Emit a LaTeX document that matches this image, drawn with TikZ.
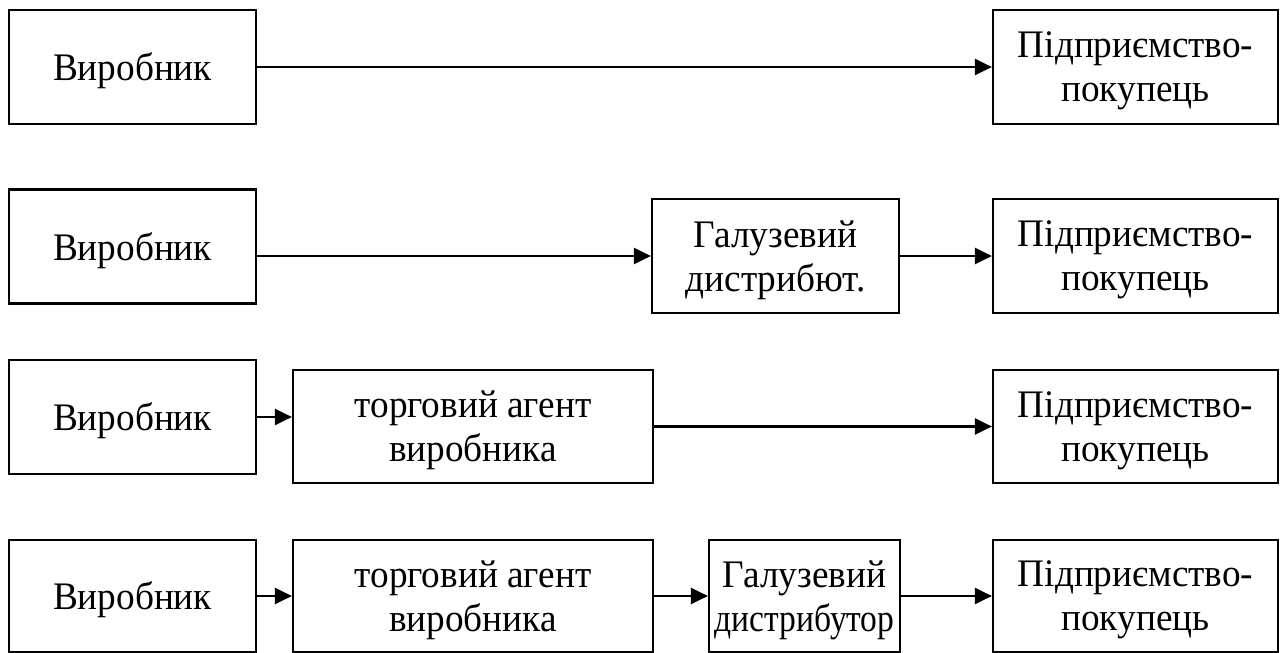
\documentclass[tikz,border=0pt]{standalone}
\usepackage{fontspec}
\setmainfont[FakeStretch=0.955]{Liberation Serif}
\newfontfamily\narrowserif[FakeStretch=0.86]{Liberation Serif}
\usetikzlibrary{arrows.meta, positioning}

\begin{document}
\begin{tikzpicture}[x=1pt, y=-1pt, every node/.style={font=\fontsize{39}{44}\selectfont}]
        \tikzset{
          chbox/.style={draw, line width=2.2pt, inner sep=0pt, align=center,
                 minimum width=247pt, minimum height=114pt, text depth=0pt},
          flow/.style={-{Triangle[length=17pt, width=16pt]}, line width=2.2pt}
        }
        \useasboundingbox (0,0) rectangle (1286,653);
        % direct
        \node[chbox] (v1) at (132.5,67) {Виробник};
        \node[chbox, minimum width=285pt] (p1) at (1135.5,67) {Підприємство-\\покупець};
        \draw[flow] (v1.east) -- (p1.west);
        % via distributor
        \node[chbox] (v2) at (132.5,246.5) {Виробник};
        \node[chbox] (g2) at (775.5,256) {Галузевий\\дистрибют.};
        \node[chbox, minimum width=285pt] (p2) at (1135.5,256) {Підприємство-\\покупець};
        \draw[flow] (v2.east |- g2.west) -- (g2.west);
        \draw[flow] (g2.east) -- (p2.west);
        % via agent
        \node[chbox] (v3) at (132.5,417) {Виробник};
        \node[chbox, minimum width=360pt, minimum height=113pt] (a3) at (473,426.5) {торговий агент\\виробника};
        \node[chbox, minimum width=285pt, minimum height=113pt] (p3) at (1135.5,426.5) {Підприємство-\\покупець};
        \draw[flow] (v3.east) -- (v3.east -| a3.west);
        \draw[flow] (a3.east) -- (p3.west);
        % via agent and distributor
        \node[chbox, minimum height=112pt] (v4) at (132.5,596) {Виробник};
        \node[chbox, minimum width=360pt, minimum height=112pt] (a4) at (473,596) {торговий агент\\виробника};
        \node[chbox, minimum width=191pt, minimum height=112pt] (g4) at (804.5,596) {Галузевий\\{\narrowserif дистрибутор}};
        \node[chbox, minimum width=285pt, minimum height=112pt] (p4) at (1135.5,596) {Підприємство-\\покупець};
        \draw[flow] (v4) -- (a4);
        \draw[flow] (a4) -- (g4);
        \draw[flow] (g4) -- (p4);
      \end{tikzpicture}
\end{document}
